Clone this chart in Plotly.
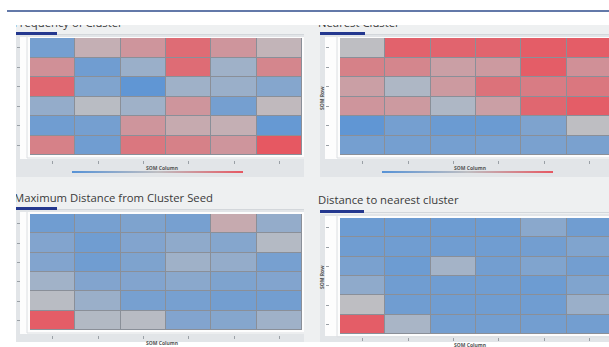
import plotly.graph_objects as go

# ---- data: SOM component planes (normalised, -1 = low, +1 = high) ----
cols = [1, 2, 3, 4, 5, 6]
rows = [1, 2, 3, 4, 5, 6]

titles = [
    "Frequency of Cluster",
    "Nearest Cluster",
    "Maximum Distance from Cluster Seed",
    "Distance to nearest cluster",
]

freq_of_cluster = [
    [-0.70, 0.15, 0.40, 0.80, 0.40, 0.10],
    [0.45, -0.75, -0.35, 0.80, -0.30, 0.55],
    [0.85, -0.60, -0.90, -0.30, -0.35, -0.55],
    [-0.40, -0.05, -0.30, 0.40, -0.70, 0.05],
    [-0.75, -0.70, 0.40, 0.20, 0.15, -0.85],
    [0.60, -0.75, 0.70, 0.60, 0.40, 1.00],
]

nearest_cluster = [
    [0.00, 0.90, 0.88, 0.88, 0.95, 0.95],
    [0.60, 0.55, 0.30, 0.35, 0.95, 0.45],
    [0.30, -0.15, 0.35, 0.75, 0.65, 0.70],
    [0.40, 0.35, -0.15, 0.30, 0.85, 0.95],
    [-0.90, -0.70, -0.80, -0.80, -0.62, 0.00],
    [-0.70, -0.70, -0.70, -0.68, -0.65, -0.65],
]

max_dist_seed = [
    [-0.75, -0.68, -0.62, -0.68, 0.20, -0.40],
    [-0.58, -0.75, -0.58, -0.45, -0.55, -0.10],
    [-0.58, -0.75, -0.62, -0.30, -0.40, -0.68],
    [-0.28, -0.58, -0.58, -0.50, -0.62, -0.58],
    [-0.05, -0.35, -0.68, -0.68, -0.72, -0.72],
    [0.95, -0.12, -0.06, -0.58, -0.55, -0.30],
]

dist_nearest = [
    [-0.78, -0.78, -0.78, -0.78, -0.50, -0.75],
    [-0.75, -0.75, -0.75, -0.75, -0.72, -0.60],
    [-0.65, -0.78, -0.25, -0.72, -0.60, -0.72],
    [-0.45, -0.75, -0.75, -0.75, -0.78, -0.60],
    [0.00, -0.75, -0.75, -0.75, -0.75, -0.35],
    [0.95, -0.20, -0.72, -0.72, -0.72, -0.72],
]

planes = [freq_of_cluster, nearest_cluster, max_dist_seed, dist_nearest]

# ---- page geometry helpers (pixel -> paper) ----
W, H = 609, 347


def px(x):
    return x / W


def py(y):
    return 1 - y / H


SCALE = [[0.0, "rgb(86,146,214)"], [0.5, "rgb(190,190,194)"], [1.0, "rgb(230,88,98)"]]
NAVY = "#24388f"
FRAME = "#e2e5e8"
PAGE = "#eef0f1"

panels = [
    dict(frame=(16, 35, 304, 177), white=(20, 37, 304, 159), cells=(30, 38, 302, 155),
         bar=(16, 57, 32, 35), xtick=160, ytick=20, cbar=(157.5, 172),
         xtitle=(162, 168), ytitle=None, title=(14, 24)),
    dict(frame=(320, 35, 609, 177), white=(325, 37, 609, 159), cells=(340, 38, 612, 155),
         bar=(320, 365, 32, 35), xtick=160, ytick=329, cbar=(467.5, 172),
         xtitle=(470, 168), ytitle=(322, 98), title=(318, 24)),
    dict(frame=(16, 210, 304, 342), white=(20, 212, 304, 334), cells=(30, 214, 302, 330),
         bar=(16, 57, 207, 210), xtick=335, ytick=20, cbar=None,
         xtitle=(162, 343), ytitle=None, title=(14, 199)),
    dict(frame=(320, 214, 609, 342), white=(325, 216, 609, 336), cells=(340, 218, 612, 334),
         bar=(320, 364, 210, 213), xtick=337, ytick=329, cbar=None,
         xtitle=(470, 345), ytitle=(322, 277), title=(318, 201)),
]

fig = go.Figure()
shapes = []
annotations = []


def rect(x0, y0, x1, y1, color, layer="below"):
    shapes.append(dict(type="rect", xref="paper", yref="paper", layer=layer,
                       x0=px(x0), x1=px(min(x1, W)), y0=py(y1), y1=py(y0),
                       line=dict(width=0), fillcolor=color))


def hline(x0, x1, y, color, width=1):
    shapes.append(dict(type="line", xref="paper", yref="paper", layer="below",
                       x0=px(x0), x1=px(min(x1, W)), y0=py(y), y1=py(y),
                       line=dict(color=color, width=width)))


def vline(x, y0, y1, color, width=1):
    shapes.append(dict(type="line", xref="paper", yref="paper", layer="below",
                       x0=px(x), x1=px(x), y0=py(y1), y1=py(y0),
                       line=dict(color=color, width=width)))


# page header rule and dashboard canvas
hline(7, 609, 11, "#2f4d8c", 1.5)
rect(16, 25, 609, 342, PAGE)

layout_axes = {}
for i, (p, z) in enumerate(zip(panels, planes)):
    n = i + 1
    sfx = "" if n == 1 else str(n)
    fx0, fy0, fx1, fy1 = p["frame"]
    rect(fx0, fy0, fx1, fy1, FRAME)
    wx0, wy0, wx1, wy1 = p["white"]
    rect(wx0, wy0, wx1, wy1, "#fdfdfd")
    # inner axis rules
    cx0, cy0, cx1, cy1 = p["cells"]
    vline(cx0 - 3, wy0, cy1 + 3, "#dcdfe2")
    hline(cx0 - 3, wx1, cy1 + 3, "#dcdfe2")
    # tab strip with the active marker
    b0, b1, by0, by1 = p["bar"]
    hline(fx0, fx1, by1 - 0.5, "#d3d7db", 1)
    rect(b0, by0, b1, by1, NAVY)
    # cell borders show through the heatmap gaps
    rect(cx0, cy0, cx1, cy1, "rgb(138,143,152)")

    colw = (cx1 - cx0) / len(cols)
    vis_right = min(cx1, W)
    fig.add_trace(go.Heatmap(
        z=z, x=cols, y=rows, coloraxis="coloraxis" + sfx,
        xgap=1, ygap=1, hoverinfo="skip",
        xaxis="x" + sfx, yaxis="y" + sfx,
    ))
    layout_axes["xaxis" + sfx] = dict(
        domain=[px(cx0), px(vis_right)],
        range=[0.5, 0.5 + (vis_right - cx0) / colw],
        anchor="free", position=py(p["xtick"]),
        showgrid=False, zeroline=False, showline=False,
        ticks="outside", ticklen=3, tickwidth=1, tickcolor="#9aa0a6",
        tickvals=cols, showticklabels=False, fixedrange=True,
    )
    layout_axes["yaxis" + sfx] = dict(
        domain=[py(cy1), py(cy0)],
        range=[6.5, 0.5],
        anchor="free", position=px(p["ytick"]),
        showgrid=False, zeroline=False, showline=False,
        ticks="outside", ticklen=3, tickwidth=1, tickcolor="#9aa0a6",
        tickvals=rows, showticklabels=False, fixedrange=True,
    )
    cb = dict(thickness=2, len=171, lenmode="pixels", orientation="h",
              xanchor="center", yanchor="middle", xpad=0, ypad=0,
              outlinewidth=0, ticks="", showticklabels=False)
    if p["cbar"]:
        cb.update(x=px(p["cbar"][0]), y=py(p["cbar"][1]))
    layout_axes["coloraxis" + sfx] = dict(
        colorscale=SCALE, cmin=-1, cmax=1,
        showscale=p["cbar"] is not None, colorbar=cb,
    )
    # small axis captions
    annotations.append(dict(text="<b>SOM Column</b>", xref="paper", yref="paper",
                            x=px(p["xtitle"][0]), y=py(p["xtitle"][1]),
                            showarrow=False, font=dict(size=5, color="#555"),
                            xanchor="center", yanchor="middle"))
    if p["ytitle"]:
        annotations.append(dict(text="<b>SOM Row</b>", xref="paper", yref="paper",
                                x=px(p["ytitle"][0]), y=py(p["ytitle"][1]),
                                showarrow=False, textangle=-90,
                                font=dict(size=5, color="#555"),
                                xanchor="center", yanchor="middle"))

# panel titles, clipped to the dashboard canvas
fig.add_trace(go.Scatter(
    x=[p["title"][0] for p in panels], y=[p["title"][1] for p in panels],
    text=titles, mode="text", textposition="middle right",
    textfont=dict(family="Open Sans", size=11.3, color="#3a3a3a"),
    cliponaxis=True, hoverinfo="skip", showlegend=False,
    xaxis="x5", yaxis="y5",
))
layout_axes["xaxis5"] = dict(domain=[px(16), 1], range=[16, W], visible=False,
                             fixedrange=True, anchor="y5")
layout_axes["yaxis5"] = dict(domain=[0, py(25)], range=[H, 25], visible=False,
                             fixedrange=True, anchor="x5")

fig.update_layout(
    width=W, height=H,
    margin=dict(l=0, r=0, t=0, b=0),
    paper_bgcolor="white",
    plot_bgcolor="rgba(0,0,0,0)",
    showlegend=False,
    shapes=shapes,
    annotations=annotations,
    **layout_axes,
)

fig.write_html("out.html")
